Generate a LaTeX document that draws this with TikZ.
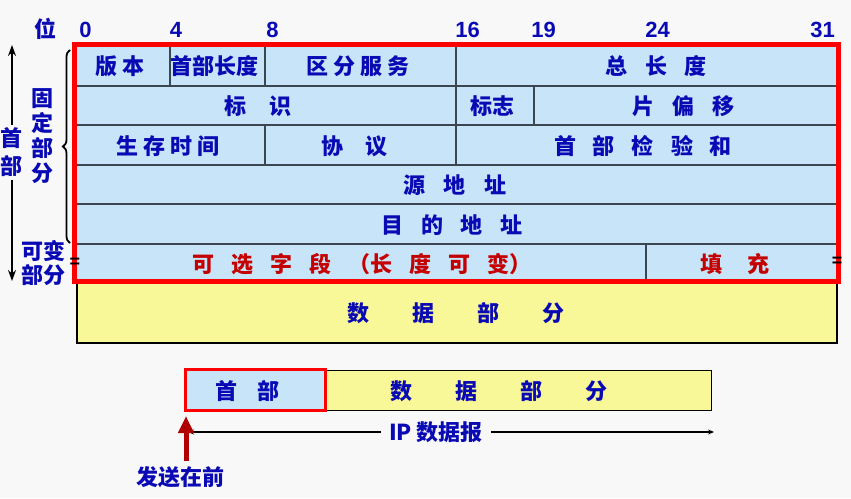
\documentclass[tikz,border=0pt]{standalone}
\usepackage{fontspec}
\setmainfont{Liberation Sans}
\newfontfamily\cjk{Noto Sans CJK SC}
\usetikzlibrary{arrows.meta,decorations.pathreplacing}
\definecolor{bgc}{RGB}{248,248,248}
\definecolor{ipblue}{RGB}{10,10,180}
\definecolor{cellblue}{RGB}{200,228,248}
\definecolor{cellyel}{RGB}{248,248,152}
\definecolor{gridc}{RGB}{60,70,80}
\definecolor{optred}{RGB}{196,0,0}
\definecolor{framered}{RGB}{255,0,0}
\definecolor{arrred}{RGB}{176,0,0}
\newcommand\gp[1]{\hspace*{#1pt}}
\begin{document}
\begin{tikzpicture}[x=1pt,y=-1pt,
  cell/.style={draw=gridc,line width=1.2pt,fill=cellblue,inner sep=0pt,outer sep=0pt},
  ycell/.style={draw=black,line width=1.6pt,fill=cellyel,inner sep=0pt,outer sep=0pt},
  lbl/.style={font=\cjk\bfseries\fontsize{22}{24}\selectfont,text=ipblue,inner sep=0pt},
  rlbl/.style={lbl,text=optred},
  bit/.style={font=\bfseries\fontsize{22}{24}\selectfont,text=ipblue,inner sep=0pt},
  brk/.style={font=\bfseries\fontsize{18}{18}\selectfont,inner sep=0pt},
  blkarrow/.style={draw=black,line width=1.5pt,-{Stealth[length=11pt,width=8pt]}},
  iparrow/.style={draw=black,line width=1.2pt,-{Stealth[length=6pt,width=5pt]}},
  redarrow/.style={draw=arrred,line width=5pt,-{Triangle[length=17pt,width=15pt]}}]
\useasboundingbox (0,0) rectangle (851,498);
\fill[bgc] (0,0) rectangle (851,498);

% bit numbers
\node[lbl] (wei) at (45,29) {位};
\node[bit] (b0) at (85.5,30) {0};
\node[bit] (b4) at (176,30) {4};
\node[bit] (b8) at (272.5,30) {8};
\node[bit] (b16) at (467.5,30) {16};
\node[bit] (b19) at (543.5,30) {19};
\node[bit] (b24) at (657.5,30) {24};
\node[bit] (b31) at (822.5,30) {31};

% row 1
\node[cell,minimum width=95.5pt,minimum height=41.5pt] (ver) at (122.25,65.25) {};
\node[cell,minimum width=95pt,minimum height=41.5pt] (ihl) at (217.5,65.25) {};
\node[cell,minimum width=191pt,minimum height=41.5pt] (tos) at (360.5,65.25) {};
\node[cell,minimum width=382.5pt,minimum height=41.5pt] (len) at (647.25,65.25) {};
% row 2
\node[cell,minimum width=381.5pt,minimum height=39pt] (ident) at (265.25,105.5) {};
\node[cell,minimum width=78pt,minimum height=39pt] (flag) at (495,105.5) {};
\node[cell,minimum width=304.5pt,minimum height=39pt] (off) at (686.25,105.5) {};
% row 3
\node[cell,minimum width=190.5pt,minimum height=40pt] (ttl) at (169.75,145) {};
\node[cell,minimum width=191pt,minimum height=40pt] (proto) at (360.5,145) {};
\node[cell,minimum width=382.5pt,minimum height=40pt] (cks) at (647.25,145) {};
% row 4,5
\node[cell,minimum width=764pt,minimum height=39pt] (src) at (456.5,184.5) {};
\node[cell,minimum width=764pt,minimum height=40pt] (dst) at (456.5,224) {};
% row 6
\node[cell,minimum width=571.5pt,minimum height=37pt] (opt) at (360.25,262.5) {};
\node[cell,minimum width=192.5pt,minimum height=37pt] (pad) at (742.25,262.5) {};
% data block
\node[ycell,minimum width=760pt,minimum height=62pt] (data) at (457,312) {};

% labels
\node[lbl] (tver) at (120,66) {版\gp{6}本};
\node[lbl] (tihl) at (214,66) {首部长度};
\node[lbl] (ttos) at (358,66) {区\gp{5}分\gp{5}服\gp{5}务};
\node[lbl] (tlen) at (656,66) {总\gp{18}长\gp{18}度};
\node[lbl] (tid) at (258,106) {标\gp{24}识};
\node[lbl] (tflag) at (492,106) {标志};
\node[lbl] (toff) at (683.5,106) {片\gp{18}偏\gp{18}移};
\node[lbl] (tttl) at (168,146) {生\gp{5}存\gp{5}时\gp{5}间};
\node[lbl] (tproto) at (354,146) {协\gp{22}议};
\node[lbl] (tcks) at (643,146) {首\gp{17}部\gp{17}检\gp{17}验\gp{17}和};
\node[lbl] (tsrc) at (455,185) {源\gp{19}地\gp{19}址};
\node[lbl] (tdst) at (452,225) {目\gp{18}的\gp{18}地\gp{18}址};
\node[rlbl] (topt) at (362,264) {可\gp{17}选\gp{17}字\gp{17}段\gp{17}（长\gp{17}度\gp{17}可\gp{17}变）};
\node[rlbl] (tpad) at (735,264) {填\gp{25}充};
\node[lbl] (tdata) at (456,313) {数\gp{43}据\gp{43}部\gp{43}分};

% red frame
\draw[framered,line width=5pt] (ver.north west) rectangle (pad.south east);

% break marks
\node[brk] (brkl) at (75,263) {=};
\node[brk] (brkr) at (837,262) {=};

% brace
\draw[line width=1.8pt,decorate,decoration={brace,amplitude=7pt}] (70,243) -- (70,50);

% left labels
\node[lbl,align=center,font=\cjk\bfseries\fontsize{22}{25}\selectfont] (fixed) at (42,136) {固\\定\\部\\分};
\node[lbl,align=center,font=\cjk\bfseries\fontsize{22}{24}\selectfont] (var) at (43,263) {可变\\部分};
\node[lbl,align=center,font=\cjk\bfseries\fontsize{22}{28}\selectfont] (hdr) at (12,152) {首\\部};
\coordinate (uptip) at (12,45);
\coordinate (downtip) at (12,281);
\draw[blkarrow] (hdr.north) ++(0,-2) -- (uptip);
\draw[blkarrow] (hdr.south) ++(0,3) -- (downtip);

% bottom datagram
\node[ycell,draw=black,line width=1pt,minimum width=385.5pt,minimum height=40pt] (bdata) at (518.25,390) {};
\node[cell,draw=framered,line width=3pt,minimum width=140pt,minimum height=41pt] (bhdr) at (255.5,390) {};
\node[lbl] (tbhdr) at (247.5,391) {首\gp{21}部};
\node[lbl] (tbdata) at (499,391) {数\gp{43}据\gp{43}部\gp{43}分};

\node[lbl,inner xsep=8pt] (ipl) at (436,432) {IP 数据报};
\coordinate (ipl0) at (188,432);
\coordinate (ipr0) at (714,432);
\draw[iparrow] (ipl.west) -- (ipl0);
\draw[iparrow] (ipl.east) -- (ipr0);

\node[lbl] (send) at (180,477) {发送在前};
\coordinate (sendtip) at (186,416);
\draw[redarrow] (186,461) -- (sendtip);
\end{tikzpicture}
\end{document}
